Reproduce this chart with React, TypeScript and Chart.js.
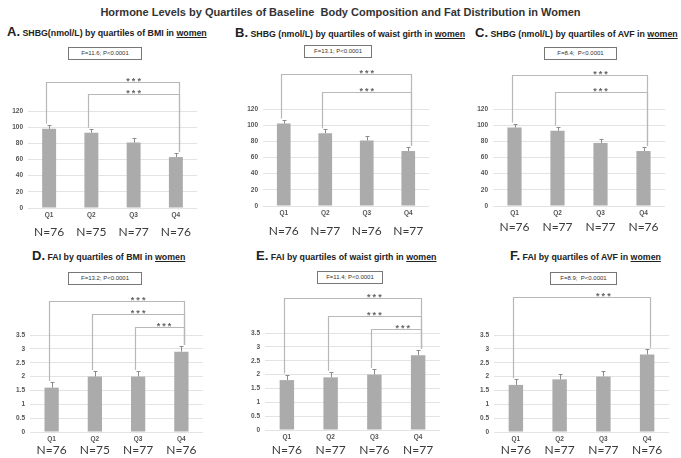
import React, { useEffect, useRef } from "react";
import { Chart, registerables } from "chart.js";

Chart.register(...registerables);
Chart.defaults.font.family = "'Liberation Sans', Arial, sans-serif";

// ---------- data ----------
const quartiles = ["Q1", "Q2", "Q3", "Q4"];
const shbgTicks = [0, 20, 40, 60, 80, 100, 120];
const faiTicks = [0, 0.5, 1, 1.5, 2, 2.5, 3, 3.5];

// A. SHBG by BMI
const shbgBmiMean = [98, 93, 81, 63];
const shbgBmiUpper = [103, 98, 86, 68];
const shbgBmiN = ["N=76", "N=75", "N=77", "N=76"];
const shbgBmiStats = "F=11.6; P<0.0001";
const shbgBmiSig = [
  { from: 0, to: 3, level: 156, star: 2 },
  { from: 1, to: 3, level: 141, star: 2 },
];

// B. SHBG by waist girth
const shbgWaistMean = [102, 90, 81, 68];
const shbgWaistUpper = [107, 95, 86, 73];
const shbgWaistN = ["N=76", "N=77", "N=76", "N=77"];
const shbgWaistStats = "F=13.1; P<0.0001";
const shbgWaistSig = [
  { from: 0, to: 3, level: 163, star: 2 },
  { from: 1, to: 3, level: 141, star: 2 },
];

// C. SHBG by AVF
const shbgAvfMean = [97, 93, 78, 68];
const shbgAvfUpper = [102, 98, 83, 73];
const shbgAvfN = ["N=76", "N=77", "N=77", "N=76"];
const shbgAvfStats = "F=8.4;  P<0.0001";
const shbgAvfSig = [
  { from: 0, to: 3, level: 162, star: 2 },
  { from: 1, to: 3, level: 141, star: 2 },
];

// D. FAI by BMI
const faiBmiMean = [1.6, 2.0, 2.0, 2.9];
const faiBmiUpper = [1.8, 2.2, 2.2, 3.1];
const faiBmiN = ["N=76", "N=75", "N=77", "N=76"];
const faiBmiStats = "F=13.2; P<0.0001";
const faiBmiSig = [
  { from: 0, to: 3, level: 4.73, star: 2 },
  { from: 1, to: 3, level: 4.26, star: 2 },
  { from: 2, to: 3, level: 3.79, star: 2.6 },
];

// E. FAI by waist girth
const faiWaistMean = [1.8, 1.9, 2.0, 2.7];
const faiWaistUpper = [2.0, 2.1, 2.2, 2.9];
const faiWaistN = ["N=76", "N=77", "N=76", "N=77"];
const faiWaistStats = "F=11.4; P<0.0001";
const faiWaistSig = [
  { from: 0, to: 3, level: 4.76, star: 2 },
  { from: 1, to: 3, level: 4.12, star: 2 },
  { from: 2, to: 3, level: 3.65, star: 2.65 },
];

// F. FAI by AVF
const faiAvfMean = [1.7, 1.9, 2.0, 2.8];
const faiAvfUpper = [1.9, 2.1, 2.2, 3.0];
const faiAvfN = ["N=76", "N=77", "N=77", "N=76"];
const faiAvfStats = "F=8.9;  P<0.0001";
const faiAvfSig = [{ from: 0, to: 3, level: 4.87, star: 2 }];

type Bracket = { from: number; to: number; level: number; star: number };
type Geo = {
  left: number; top: number; width: number; height: number;
  yW: number; padT: number; padR: number; x1H: number; x2H: number; qPad: number; nPad: number;
};

function BarPanel(props: {
  means: number[]; upper: number[]; nLabels: string[]; ticks: number[]; brackets: Bracket[]; geo: Geo;
}) {
  const ref = useRef<HTMLCanvasElement | null>(null);
  useEffect(() => {
    const { means, upper, nLabels, ticks, brackets, geo } = props;
    const overlay = {
      id: "overlay",
      afterDatasetsDraw(chart: any) {
        const ctx = chart.ctx as CanvasRenderingContext2D;
        const xs = chart.scales.x;
        const ys = chart.scales.y;
        ctx.save();
        ctx.strokeStyle = "#8c8c8c";
        ctx.lineWidth = 1;
        upper.forEach((u, i) => {
          const x = Math.round(xs.getPixelForValue(i)) + 0.5;
          const y0 = ys.getPixelForValue(means[i]);
          const y1 = Math.round(ys.getPixelForValue(u)) + 0.5;
          ctx.beginPath();
          ctx.moveTo(x, y0);
          ctx.lineTo(x, y1);
          ctx.moveTo(x - 2, y1);
          ctx.lineTo(x + 2, y1);
          ctx.stroke();
        });
        brackets.forEach((b) => {
          const xl = Math.round(xs.getPixelForValue(b.from) - 3) + 0.5;
          const xr = Math.round(xs.getPixelForValue(b.to) + 3) + 0.5;
          const yt = Math.round(ys.getPixelForValue(b.level)) + 0.5;
          const yl = ys.getPixelForValue(upper[b.from]) - 1;
          const yr = ys.getPixelForValue(upper[b.to]) - 1;
          ctx.strokeStyle = "#b8b8b8";
          ctx.lineWidth = 1.2;
          ctx.beginPath();
          ctx.moveTo(xl, yl);
          ctx.lineTo(xl, yt);
          ctx.lineTo(xr, yt);
          ctx.lineTo(xr, yr);
          ctx.stroke();
          ctx.fillStyle = "#666";
          ctx.font = "bold 9px 'Liberation Sans', Arial, sans-serif";
          ctx.textAlign = "center";
          ctx.textBaseline = "alphabetic";
          (ctx as any).letterSpacing = "2px";
          ctx.fillText("***", xs.getPixelForValue(b.star) + 1, yt + 1.5);
        });
        ctx.restore();
      },
    };
    const chart = new Chart(ref.current as HTMLCanvasElement, {
      type: "bar",
      data: {
        labels: quartiles,
        datasets: [
          {
            data: means,
            backgroundColor: "#ababab",
            borderWidth: 0,
            barPercentage: 0.33,
            categoryPercentage: 1,
          },
        ],
      },
      options: {
        animation: false,
        responsive: false,
        events: [],
        layout: { padding: { top: geo.padT, right: geo.padR, left: 0, bottom: 0 } },
        plugins: { legend: { display: false }, tooltip: { enabled: false } },
        scales: {
          x: {
            type: "category",
            weight: 0,
            offset: true,
            grid: { display: false, drawTicks: false },
            border: { display: false },
            ticks: { color: "#555", font: { size: 6.5, weight: "bold" }, padding: geo.qPad, maxRotation: 0 },
            afterFit: (s: any) => { s.height = geo.x1H; },
          },
          x2: {
            type: "category",
            position: "bottom",
            weight: 1,
            offset: true,
            labels: nLabels,
            grid: { display: false, drawTicks: false },
            border: { display: false },
            ticks: { color: "#3a3a3a", font: { size: 12, family: "Lato, 'Liberation Sans', sans-serif" }, padding: geo.nPad, maxRotation: 0 },
            afterFit: (s: any) => { s.height = geo.x2H; },
          },
          y: {
            min: 0,
            max: ticks[ticks.length - 1],
            grid: { color: "#e3e3e3", drawTicks: false, lineWidth: 1 },
            border: { display: false },
            afterBuildTicks: (s: any) => { s.ticks = ticks.map((v) => ({ value: v })); },
            ticks: { color: "#555", font: { size: 6.5, weight: "bold" }, padding: 5, callback: (v: any) => String(v) },
            afterFit: (s: any) => { s.width = geo.yW; },
          },
        },
      },
      plugins: [overlay],
    } as any);
    return () => chart.destroy();
  }, []);
  const g = props.geo;
  return (
    <canvas
      ref={ref}
      width={g.width}
      height={g.height}
      style={{ position: "absolute", left: g.left, top: g.top, width: g.width, height: g.height, display: "block" }}
    />
  );
}

function PanelTitle(props: { letter: string; text: string; left: number; y: number }) {
  return (
    <div
      style={{
        position: "absolute", left: props.left, top: props.y - 9, height: 18, lineHeight: "18px",
        whiteSpace: "nowrap", fontWeight: "bold", color: "#222", fontSize: 8.8,
      }}
    >
      <span style={{ fontSize: 13 }}>{props.letter}</span> {props.text} <span style={{ textDecoration: "underline" }}>women</span>
    </div>
  );
}

function StatBox(props: { text: string; left: number; top: number; width: number; height: number }) {
  return (
    <div
      style={{
        position: "absolute", left: props.left, top: props.top, width: props.width, height: props.height,
        boxSizing: "border-box", border: "1px solid #777", fontSize: 6, lineHeight: props.height - 2 + "px",
        textAlign: "center", color: "#333", whiteSpace: "pre", zIndex: 2, background: "#fff",
      }}
    >
      {props.text}
    </div>
  );
}

export default function App() {
  return (
    <div
      style={{
        position: "absolute", left: 0, top: 0, width: 681, height: 458, background: "#fff", overflow: "hidden",
        fontFamily: "'Liberation Sans', Arial, sans-serif",
      }}
    >
      <div
        style={{
          position: "absolute", left: 0, top: 4, width: 681, textAlign: "center", fontWeight: "bold",
          fontSize: 11, lineHeight: "16px", color: "#333", whiteSpace: "pre",
        }}
      >
        Hormone Levels by Quartiles of Baseline  Body Composition and Fat Distribution in Women
      </div>

      <PanelTitle letter="A." text="SHBG(nmol/L) by quartiles of BMI in" left={7} y={32} />
      <PanelTitle letter="B." text="SHBG (nmol/L) by quartiles of waist girth in" left={235} y={33} />
      <PanelTitle letter="C." text="SHBG (nmol/L) by quartiles of AVF in" left={475} y={33} />
      <PanelTitle letter="D." text="FAI by quartiles of BMI in" left={32} y={256} />
      <PanelTitle letter="E." text="FAI by quartiles of waist girth in" left={256} y={256} />
      <PanelTitle letter="F." text="FAI by quartiles of AVF in" left={510} y={256} />

      <StatBox text={shbgBmiStats} left={68} top={47} width={74} height={13} />
      <StatBox text={shbgWaistStats} left={304} top={45} width={68} height={13} />
      <StatBox text={shbgAvfStats} left={544} top={47} width={73} height={13} />
      <StatBox text={faiBmiStats} left={68} top={272} width={74} height={13} />
      <StatBox text={faiWaistStats} left={317} top={271} width={66} height={13} />
      <StatBox text={faiAvfStats} left={550} top={272} width={67} height={13} />

      <BarPanel means={shbgBmiMean} upper={shbgBmiUpper} nLabels={shbgBmiN} ticks={shbgTicks} brackets={shbgBmiSig}
        geo={{ left: 0, top: 62, width: 225, height: 182, yW: 28, padT: 49, padR: 28, x1H: 13, x2H: 23, qPad: 3, nPad: 4 }} />
      <BarPanel means={shbgWaistMean} upper={shbgWaistUpper} nLabels={shbgWaistN} ticks={shbgTicks} brackets={shbgWaistSig}
        geo={{ left: 225, top: 62, width: 225, height: 180, yW: 38, padT: 47, padR: 21, x1H: 13, x2H: 23, qPad: 3, nPad: 5 }} />
      <BarPanel means={shbgAvfMean} upper={shbgAvfUpper} nLabels={shbgAvfN} ticks={shbgTicks} brackets={shbgAvfSig}
        geo={{ left: 450, top: 62, width: 231, height: 180, yW: 43, padT: 47, padR: 16, x1H: 13, x2H: 23, qPad: 3, nPad: 1 }} />
      <BarPanel means={faiBmiMean} upper={faiBmiUpper} nLabels={faiBmiN} ticks={faiTicks} brackets={faiBmiSig}
        geo={{ left: 0, top: 288, width: 225, height: 170, yW: 30, padT: 47, padR: 22, x1H: 11, x2H: 15, qPad: 3, nPad: 0 }} />
      <BarPanel means={faiWaistMean} upper={faiWaistUpper} nLabels={faiWaistN} ticks={faiTicks} brackets={faiWaistSig}
        geo={{ left: 225, top: 286, width: 225, height: 172, yW: 40, padT: 47, padR: 10, x1H: 12, x2H: 16, qPad: 3, nPad: 1 }} />
      <BarPanel means={faiAvfMean} upper={faiAvfUpper} nLabels={faiAvfN} ticks={faiTicks} brackets={faiAvfSig}
        geo={{ left: 450, top: 288, width: 231, height: 170, yW: 44, padT: 47, padR: 12, x1H: 11, x2H: 15, qPad: 3, nPad: 0 }} />
    </div>
  );
}
